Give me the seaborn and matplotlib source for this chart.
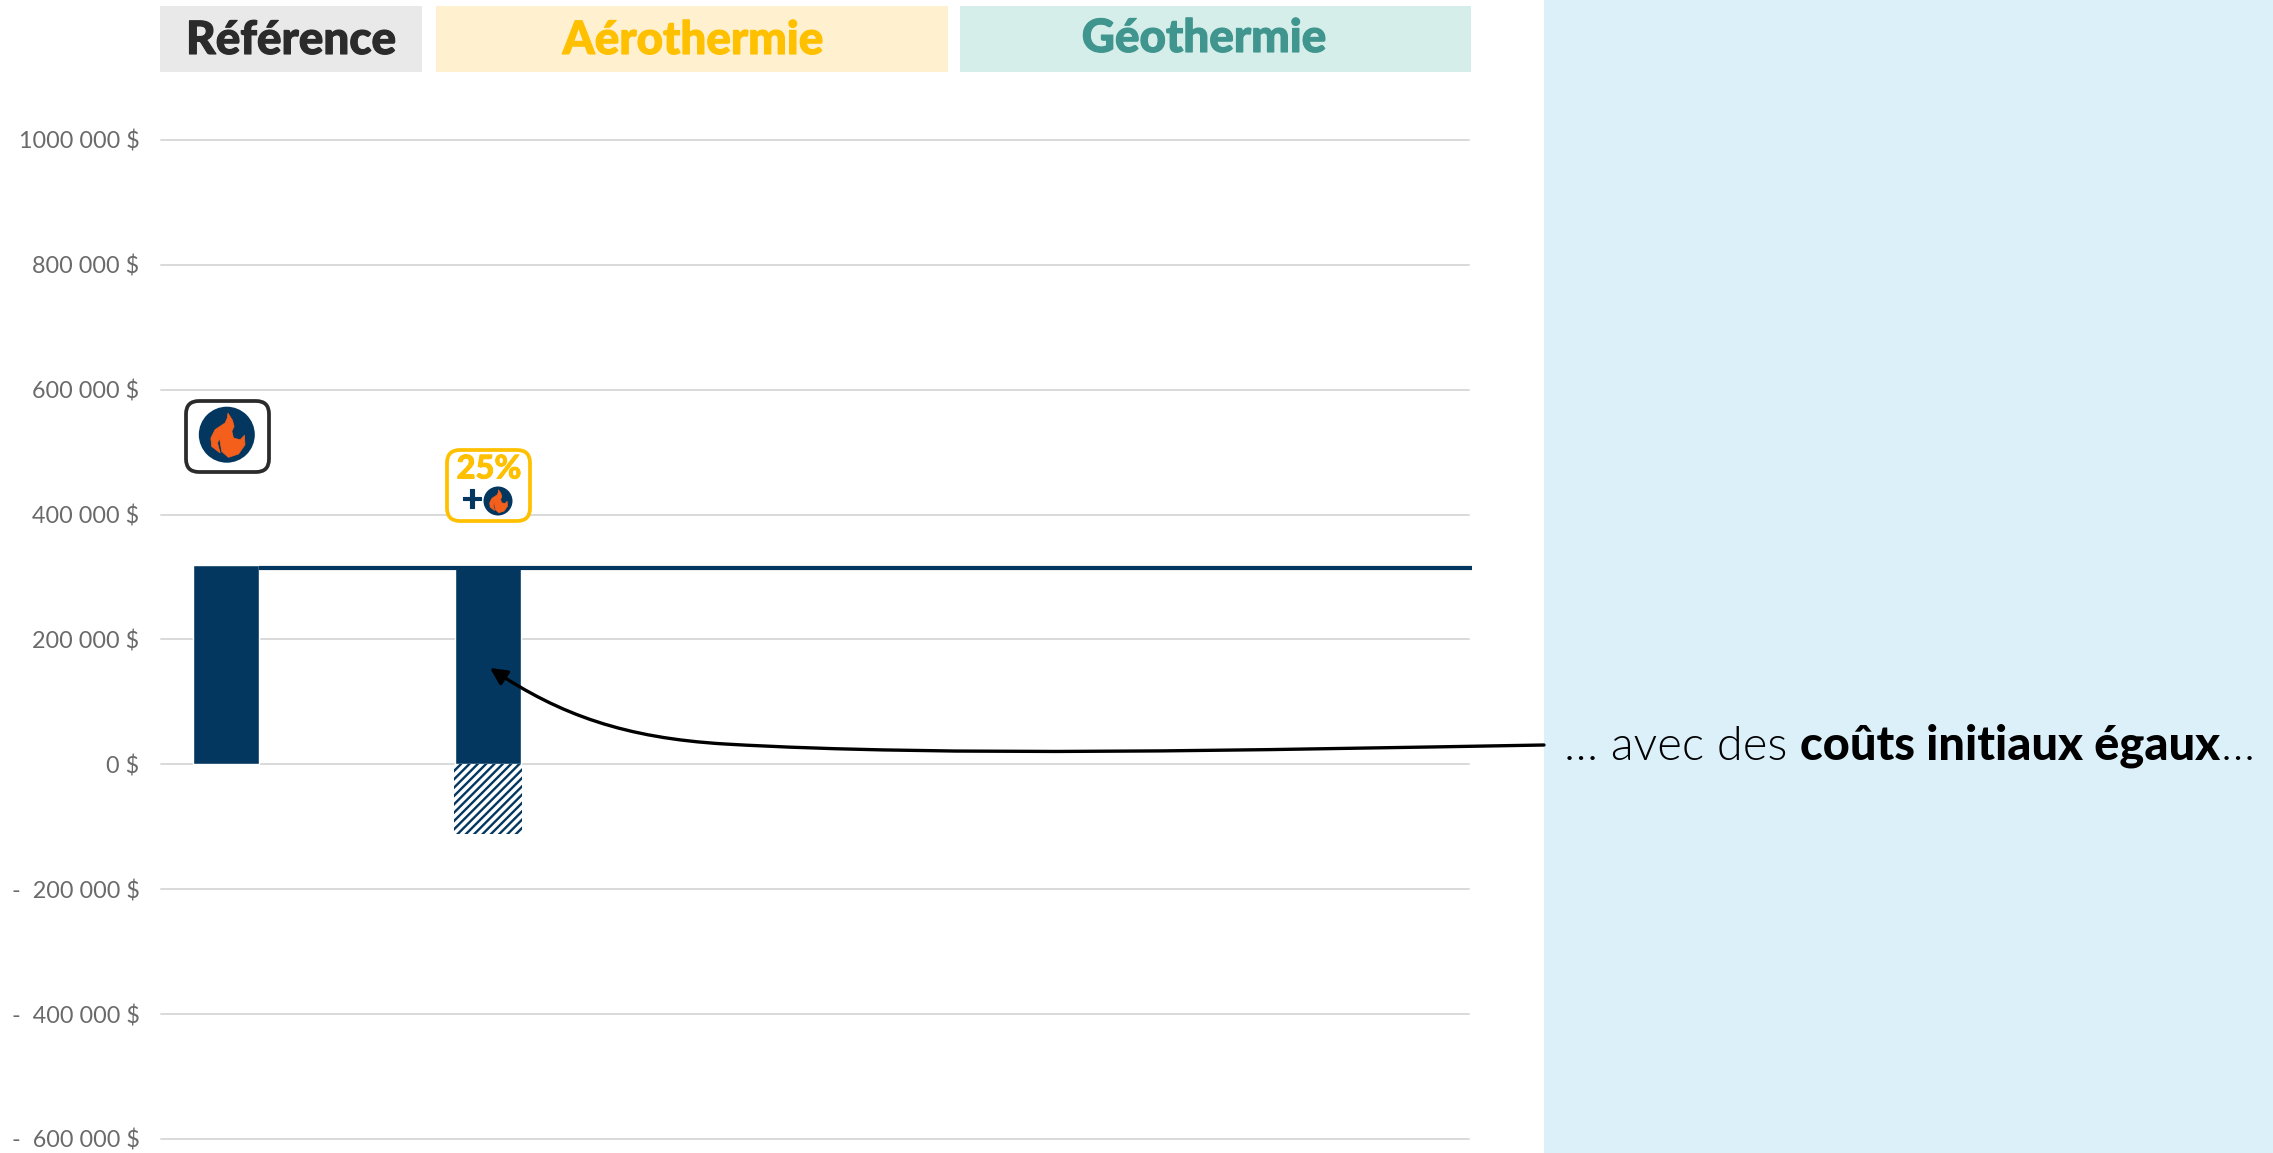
import numpy as np
import pandas as pd
import seaborn as sns
import matplotlib.pyplot as plt
import matplotlib.patheffects as pe
from matplotlib.patches import Rectangle, FancyBboxPatch, Circle, PathPatch, FancyArrowPatch
from matplotlib.path import Path

#Values
scenarios = ["Référence", "Réf 2", "Aéro 25%", "Aéro 50%", "Aéro 75%", "Aéro 100%", "Géo 25%", "Géo 50%", "Géo 75%", "Géo 100%"]
couts_initiaux = [320000, np.nan, 316000, np.nan, np.nan, np.nan, np.nan, np.nan, np.nan, np.nan]
subventions = [np.nan, np.nan, -112000, np.nan, np.nan, np.nan, np.nan, np.nan, np.nan, np.nan]
ligne_reference = 315000
y_ticks = [1000000, 800000, 600000, 400000, 200000, 0, -200000, -400000, -600000]
y_labels = ["1000 000 $", "800 000 $", "600 000 $", "400 000 $", "200 000 $", "0 $", "-  200 000 $", "-  400 000 $", "-  600 000 $"]
groupes = ["Référence", "Aérothermie", "Géothermie"]

NAVY = "#03375F"
GRID = "#D9D9D9"
FLAME = "#F4601B"
YELLOW = "#FFC000"
W, H = 2273, 1153

sns.set_style("white")
plt.rcParams['font.family'] = ['Lato', 'DejaVu Sans']
plt.rcParams['hatch.linewidth'] = 1.7

fig = plt.figure(figsize=(W / 100, H / 100), dpi=100)

#overlay in pixels for the slide furniture
deco = fig.add_axes([0, 0, 1, 1], zorder=3)
deco.set_xlim(0, W)
deco.set_ylim(H, 0)
deco.axis("off")
deco.patch.set_alpha(0)

ax = fig.add_axes([161 / W, 1 - 1139 / H, 1308 / W, 999 / H], zorder=1)
df = pd.DataFrame({"scenario": scenarios, "cout": couts_initiaux, "subvention": subventions})
sns.barplot(data=df, x="scenario", y="cout", color=NAVY, width=0.505, saturation=1, ax=ax, zorder=3)
sns.barplot(data=df, x="scenario", y="subvention", color="white", edgecolor=NAVY, linewidth=0, width=0.515,
            saturation=1, hatch="////", ax=ax, zorder=3)
ax.hlines(ligne_reference, 0.25, 9.52, color=NAVY, lw=3, zorder=4, clip_on=False)

ax.set_xlim(-0.5, 9.5)
ax.set_ylim(-600000, 1000000)
ax.set_yticks(y_ticks)
ax.set_yticklabels(y_labels, fontsize=16.8, color="#6A6A6A")
ax.set_xticks([])
ax.set_xlabel("")
ax.set_ylabel("")
ax.tick_params(axis="y", length=0, pad=15.5)
ax.grid(axis="y", color=GRID, lw=1.4, zorder=0)
ax.set_axisbelow(True)
sns.despine(ax=ax, left=True, bottom=True)
for line in ax.get_ygridlines():
    line.set_clip_on(False)

#side panel
deco.add_patch(Rectangle((1544, 0), W - 1544, H, fc="#DCF0FA", ec="none", zorder=1))

#header boxes
boites = [(160, 422, "#E9E9E9", "#2B2B2B", 291, 41), (436, 948, "#FFF1CF", YELLOW, 693, 41), (960, 1471, "#D5EEEA", "#40968F", 1204, 39)]
for nom, (x0, x1, fond, coul, xt, yt) in zip(groupes, boites):
    deco.add_patch(Rectangle((x0, 6), x1 - x0, 66, fc=fond, ec="none"))
    deco.text(xt, yt, nom, color=coul, fontsize=33, fontweight="black", ha="center", va="center",
              path_effects=[pe.withStroke(linewidth=0.8, foreground=coul)])

flamme = [(0.04, -0.77), (0.20, -0.52), (0.26, -0.30), (0.18, -0.12), (0.24, 0.12), (0.48, 0.18), (0.63, 0.02),
          (0.65, 0.36), (0.42, 0.69), (0.06, 0.81), (-0.18, 0.60), (-0.26, 0.12), (-0.33, 0.30), (-0.24, 0.65),
          (-0.54, 0.42), (-0.57, 0.12), (-0.42, -0.18), (-0.06, -0.42), (0.02, -0.60), (0.04, -0.77)]


def icone(cx, cy, r):
    deco.add_patch(Circle((cx, cy), r, fc=NAVY, ec="none", zorder=5))
    pts = [(cx + r * a, cy + r * b) for a, b in flamme]
    codes = [Path.MOVETO] + [Path.LINETO] * (len(pts) - 2) + [Path.CLOSEPOLY]
    deco.add_patch(PathPatch(Path(pts, codes), fc=FLAME, ec=FLAME, lw=0.5, joinstyle="round", zorder=6))


def badge(x0, y0, x1, y1, coul):
    deco.add_patch(FancyBboxPatch((x0, y0), x1 - x0, y1 - y0, boxstyle="round,pad=0,rounding_size=13",
                                  fc="white", ec=coul, lw=2.7, zorder=4))


badge(186, 401, 269, 472, "#2B2B2B")
icone(226.8, 434.7, 28)
badge(447, 450, 530, 521, YELLOW)
deco.text(489, 469, "25%", color=YELLOW, fontsize=23.5, fontweight="black", ha="center", va="center", zorder=5,
          path_effects=[pe.withStroke(linewidth=0.6, foreground=YELLOW)])
deco.text(472, 500, "+", color=NAVY, fontsize=26, fontweight="black", ha="center", va="center", zorder=5,
          path_effects=[pe.withStroke(linewidth=0.8, foreground=NAVY)])
icone(498, 501, 14.5)

#arrow towards the bar
verts = [(1544, 745), (1250, 750), (950, 757), (725, 744), (625, 738), (560, 715), (490, 668)]
codes = [Path.MOVETO, Path.CURVE4, Path.CURVE4, Path.CURVE4, Path.CURVE4, Path.CURVE4, Path.CURVE4]
deco.add_patch(FancyArrowPatch(path=Path(verts, codes), arrowstyle="-|>,head_length=10,head_width=5",
                               color="black", lw=2.4, zorder=7, shrinkA=0, shrinkB=0))

#panel text, pieces chained one after the other
t1 = deco.text(1564, 760, "… avec des ", fontsize=33.8, fontweight=300, color="black", va="baseline", zorder=5)
t2 = deco.annotate("coûts initiaux égaux", xy=(1, 0), xycoords=t1, fontsize=33.8, fontweight="black", color="black", va="bottom", zorder=5)
t3 = deco.annotate("…", xy=(1, 0), xycoords=t2, fontsize=33.8, fontweight=300, color="black", va="bottom", zorder=5)

fig.savefig("out.png", dpi=100)
